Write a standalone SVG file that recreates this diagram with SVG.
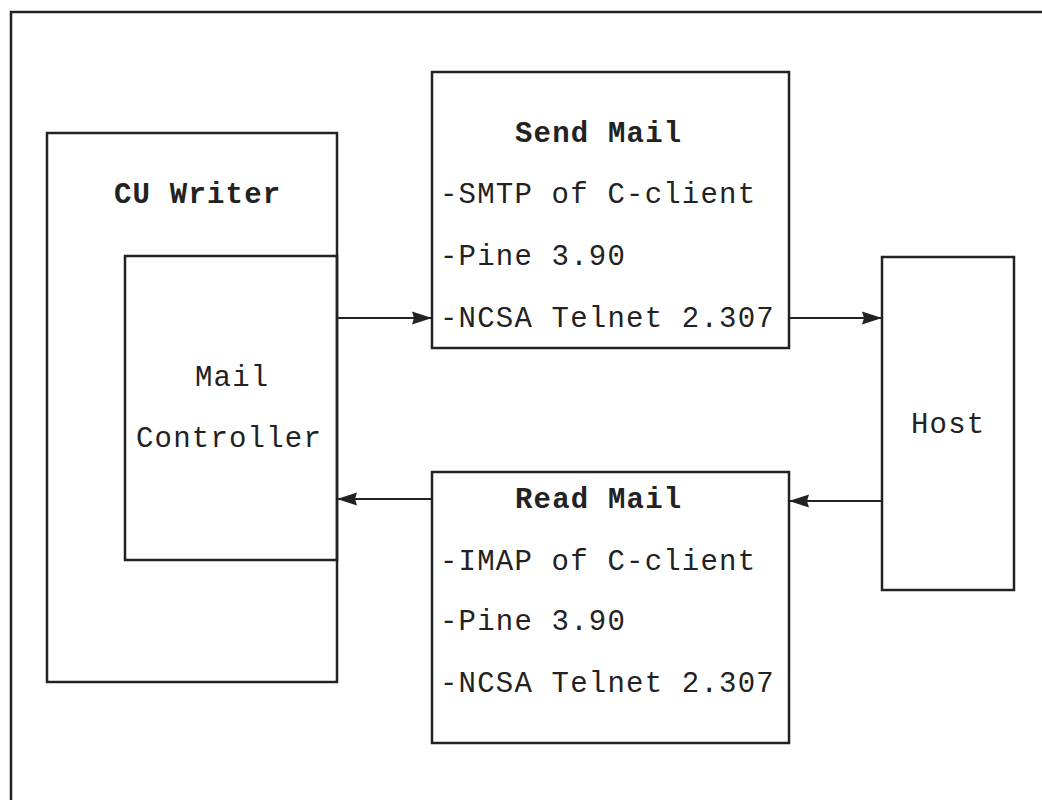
<svg xmlns="http://www.w3.org/2000/svg" width="1042" height="800" viewBox="0 0 1042 800">
<style>
.box{fill:none;stroke:#222;stroke-width:2.5}
.t{font-family:"Liberation Mono","DejaVu Sans Mono",monospace;font-size:29px;letter-spacing:1.2px;fill:#222}
.b{font-weight:bold}
.c{stroke:#222;stroke-width:2;fill:none;marker-end:url(#ah)}
</style>
<defs>
<marker id="ah" viewBox="0 0 20 16" refX="20" refY="8" markerWidth="20" markerHeight="16" markerUnits="userSpaceOnUse" orient="auto">
<path d="M0,1.5 L20,8 L0,14.5 L2,8 Z" fill="#222"/>
</marker>
</defs>
<rect width="1042" height="800" fill="#fff"/>
<rect x="11" y="12" width="1045" height="800" class="box"/>
<g id="cuwriter">
<rect x="47" y="133" width="290" height="549" class="box"/>
<text x="114" y="203" class="t b">CU Writer</text>
</g>
<g id="mailcontroller">
<rect x="125" y="256" width="212" height="304" class="box" fill="#fff"/>
<text x="195" y="386" class="t">Mail</text>
<text x="136" y="447" class="t">Controller</text>
</g>
<g id="sendmail">
<rect x="432" y="72" width="357" height="276" class="box"/>
<text x="515" y="142" class="t b">Send Mail</text>
<text x="440" y="203" class="t">-SMTP of C-client</text>
<text x="440" y="265" class="t">-Pine 3.90</text>
<text x="440" y="327" class="t">-NCSA Telnet 2.307</text>
</g>
<g id="readmail">
<rect x="432" y="472" width="357" height="271" class="box"/>
<text x="515" y="508" class="t b">Read Mail</text>
<text x="440" y="570" class="t">-IMAP of C-client</text>
<text x="440" y="630" class="t">-Pine 3.90</text>
<text x="440" y="692" class="t">-NCSA Telnet 2.307</text>
</g>
<g id="host">
<rect x="882" y="257" width="132" height="333" class="box"/>
<text x="911" y="433" class="t">Host</text>
</g>
<g id="connectors">
<line x1="337" y1="318" x2="432" y2="318" class="c"/>
<line x1="789" y1="318" x2="882" y2="318" class="c"/>
<line x1="882" y1="501" x2="789" y2="501" class="c"/>
<line x1="432" y1="499" x2="337" y2="499" class="c"/>
</g>
</svg>
